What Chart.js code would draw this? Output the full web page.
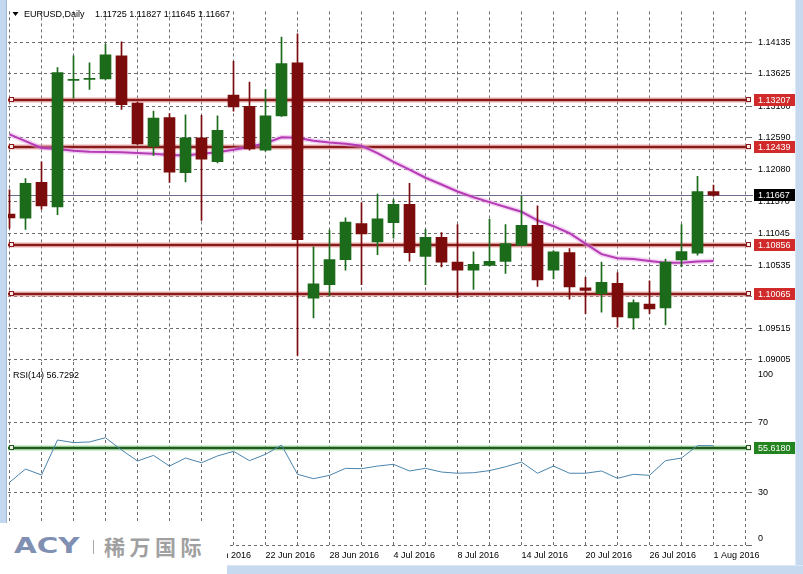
<!DOCTYPE html>
<html><head><meta charset="utf-8">
<script src="https://cdn.jsdelivr.net/npm/chart.js@4.4.0/dist/chart.umd.min.js"></script>
<style>
html,body{margin:0;padding:0;background:#fff;}
body{width:803px;height:574px;position:relative;overflow:hidden;font-family:"Liberation Sans",Arial,sans-serif;}
#c2{position:absolute;left:0;top:362px;}
#c1{position:absolute;left:0;top:0;}
#frameL{position:absolute;left:0;top:0;width:6px;height:523px;background:#c3d7ee;border-right:1px solid #9db8d9;}
#frameR{position:absolute;left:795px;top:0;width:8px;height:574px;background:#c6d9ef;border-left:1px solid #dbe7f5;}
#frameB{position:absolute;left:227px;top:565px;width:576px;height:9px;background:#c6d9ef;border-top:1px solid #dbe7f5;}
#logo{position:absolute;left:0;top:523px;width:227px;height:51px;background:#fff;}
#logo .acy{position:absolute;left:14px;top:10px;font:bold 21px "DejaVu Sans",sans-serif;color:#7f90b3;transform:scaleX(1.4);transform-origin:left top;line-height:26px;}
#logo .bar{position:absolute;left:93px;top:17px;width:1px;height:14px;background:#a9a9a9;}
#logo .cn{position:absolute;left:104px;top:9px;font:bold 21px "Noto Sans CJK SC",sans-serif;color:#a0a0a0;letter-spacing:4.5px;line-height:28px;}
</style></head>
<body>
<canvas id="c2" width="803" height="212"></canvas>
<canvas id="c1" width="803" height="372"></canvas>
<div id="frameL"></div>
<div id="frameR"></div>
<div id="frameB"></div>
<div id="logo"><span class="acy">ACY</span><span class="bar"></span><span class="cn">稀万国际</span></div>
<script>
// ---------- data ----------
const dates = ['31 May 2016','1 Jun 2016','2 Jun 2016','3 Jun 2016','6 Jun 2016','7 Jun 2016','8 Jun 2016','9 Jun 2016','10 Jun 2016',
  '13 Jun 2016','14 Jun 2016','15 Jun 2016','16 Jun 2016','17 Jun 2016','20 Jun 2016','21 Jun 2016','22 Jun 2016','23 Jun 2016','24 Jun 2016',
  '27 Jun 2016','28 Jun 2016','29 Jun 2016','30 Jun 2016','1 Jul 2016','4 Jul 2016','5 Jul 2016','6 Jul 2016','7 Jul 2016','8 Jul 2016',
  '11 Jul 2016','12 Jul 2016','13 Jul 2016','14 Jul 2016','15 Jul 2016','18 Jul 2016','19 Jul 2016','20 Jul 2016','21 Jul 2016','22 Jul 2016',
  '25 Jul 2016','26 Jul 2016','27 Jul 2016','28 Jul 2016','29 Jul 2016','1 Aug 2016'];
const opens  = [1.11362,1.11296,1.11872,1.11476,1.13520,1.13535,1.13543,1.13917,1.13154,1.12453,1.12920,1.12028,1.12593,1.12208,1.13283,
  1.13102,1.12391,1.12947,1.13803,1.10003,1.10221,1.10626,1.11207,1.10911,1.11222,1.11518,1.10677,1.10984,1.10584,1.10454,1.10532,1.10595,
  1.10853,1.11180,1.10454,1.10739,1.10168,1.10074,1.10241,1.09685,1.09909,1.09847,1.10620,1.10729,1.11725];
const highs  = [1.11752,1.11934,1.12204,1.13725,1.13917,1.13803,1.14104,1.14140,1.13169,1.13024,1.12982,1.12962,1.12956,1.12947,1.13828,
  1.13492,1.13372,1.14218,1.14271,1.10833,1.11102,1.11300,1.11545,1.11685,1.11596,1.11856,1.11113,1.11062,1.11191,1.10750,1.11280,1.11191,
  1.11648,1.11492,1.10771,1.10802,1.10339,1.10584,1.10417,1.09976,1.10283,1.10635,1.11191,1.11970,1.11827];
const lows   = [1.11129,1.11113,1.11440,1.11352,1.13232,1.13372,1.13528,1.13049,1.12484,1.12308,1.11872,1.11881,1.11258,1.12188,1.13024,
  1.12391,1.12375,1.12936,1.09078,1.09685,1.10039,1.10454,1.10221,1.10704,1.10973,1.10599,1.10221,1.10506,1.10012,1.10143,1.10521,1.10401,
  1.10849,1.10194,1.10314,1.09987,1.09753,1.09778,1.09535,1.09504,1.09753,1.09571,1.10506,1.10697,1.11645];
const closes = [1.11300,1.11856,1.11492,1.13647,1.13528,1.13551,1.13933,1.13127,1.12495,1.12909,1.12037,1.12593,1.12246,1.12713,1.13091,
  1.12411,1.12947,1.13792,1.10947,1.10236,1.10626,1.11233,1.11040,1.11285,1.11518,1.10739,1.10984,1.10584,1.10454,1.10548,1.10599,1.10884,
  1.11180,1.10299,1.10750,1.10183,1.10127,1.10257,1.09701,1.09930,1.09831,1.10584,1.10755,1.11725,1.11667];
const maValues = [1.12648,1.12539,1.12429,1.12411,1.12383,1.12367,1.12364,1.12359,1.12348,1.12333,1.12313,1.12308,1.12336,1.12359,1.12398,
  1.12445,1.12504,1.12601,1.12593,1.12546,1.12515,1.12495,1.12464,1.12344,1.12204,1.12079,1.11947,1.11838,1.11725,1.11632,1.11554,1.11476,
  1.11398,1.11258,1.11165,1.11051,1.10884,1.10713,1.10646,1.10635,1.10604,1.10573,1.10573,1.10595,1.10604];
const rsiValues = [35.8,43.4,40.0,60.0,58.5,58.9,61.3,54.3,48.0,51.2,45.1,49.7,47.0,50.9,53.5,48.2,51.8,57.1,40.4,37.9,39.8,43.8,43.6,45.1,
  46.1,42.3,43.8,41.7,41.0,41.3,42.5,44.7,47.4,41.0,45.1,41.0,41.0,42.3,38.1,40.4,39.8,48.2,49.7,56.8,56.73];
const priceTicks = [1.14135,1.13625,1.13100,1.12590,1.12080,1.11570,1.11045,1.10535,1.10025,1.09515,1.09005];
const rsiTicks = [0,30,70,100];
const priceLevels = ['1.13207','1.12439','1.10856','1.10065'];
const bidPrice = '1.11667';
const rsiLevel = '55.6180';
const rsiTitle = 'RSI(14) 56.7292';
const headerSymbol = 'EURUSD,Daily';
const headerOHLC = '1.11725 1.11827 1.11645 1.11667';

// ---------- config ----------
const FONT = '9px "Liberation Sans"';
const GRID = '#6c6c6c';
const BULL = '#1b6b1b', BEAR = '#7c0b0b';
const X_MIN = -0.09375, X_MAX = 46.21875;
const PRICE_MIN = 1.08995, PRICE_MAX = 1.14633;
const RSI_MIN = 0, RSI_MAX = 104.57;
const gridBars = []; for (let k = 0; k <= 46; k += 2) gridBars.push(k);

function xScale(showLabels) {
  return {
    type: 'linear', min: X_MIN, max: X_MAX, offset: false,
    afterBuildTicks: s => { s.ticks = gridBars.map(v => ({value: v})); },
    afterFit: s => { s.height = showLabels ? 29 : 0; },
    ticks: {
      display: showLabels, autoSkip: false, maxRotation: 0, align: 'start', padding: 5,
      font: {family: 'Liberation Sans', size: 9}, color: '#000',
      callback: v => (v % 4 === 0 && v < dates.length) ? dates[v] : ''
    },
    grid: {color: GRID, lineWidth: 1, drawTicks: false, offset: false},
    border: {display: false, dash: [3, 3]}
  };
}

function levelLine(ctx, left, y, color, halo, w) {
  ctx.save();
  ctx.lineCap = 'butt';
  ctx.strokeStyle = halo; ctx.lineWidth = w + 3;
  ctx.beginPath(); ctx.moveTo(left, y); ctx.lineTo(751, y); ctx.stroke();
  ctx.strokeStyle = color; ctx.lineWidth = w;
  ctx.beginPath(); ctx.moveTo(left, y); ctx.lineTo(751, y); ctx.stroke();
  ctx.fillStyle = '#fbe9e9'; ctx.strokeStyle = color; ctx.lineWidth = 1;
  [9.5, 746.5].forEach(x => { ctx.fillRect(x, y - 2.5, 4, 4); ctx.strokeRect(x, y - 2.5, 4, 4); });
  ctx.restore();
}
function labelBox(ctx, y, text, bg) {
  ctx.save();
  const yy = Math.round(y);
  ctx.fillStyle = bg; ctx.fillRect(754, yy - 6, 41, 12);
  ctx.fillStyle = '#fff'; ctx.font = FONT; ctx.textAlign = 'left'; ctx.textBaseline = 'middle';
  ctx.fillText(text, 758, yy + 0.5);
  ctx.restore();
}

const pricePlugin = {
  id: 'priceDeco',
  beforeDatasetsDraw(chart) {
    const {ctx, chartArea, scales: {y}} = chart;
    const yb = Math.round(y.getPixelForValue(parseFloat(bidPrice))) + 0.5;
    ctx.save(); ctx.strokeStyle = '#6c6c8e'; ctx.lineWidth = 1;
    ctx.beginPath(); ctx.moveTo(chartArea.left, yb); ctx.lineTo(753, yb); ctx.stroke(); ctx.restore();
    priceLevels.forEach(v => {
      const py = Math.round(y.getPixelForValue(parseFloat(v)));
      levelLine(ctx, chartArea.left, py, '#8b1a1a', 'rgba(235,160,160,0.55)', 2.5);
    });
  },
  afterDraw(chart) {
    const {ctx, scales: {y}} = chart;
    priceLevels.forEach(v => labelBox(ctx, y.getPixelForValue(parseFloat(v)), v, '#d02a2a'));
    labelBox(ctx, y.getPixelForValue(parseFloat(bidPrice)), bidPrice, '#000');
    ctx.save();
    ctx.fillStyle = '#000';
    ctx.beginPath(); ctx.moveTo(12.5, 12); ctx.lineTo(18.5, 12); ctx.lineTo(15.5, 16); ctx.closePath(); ctx.fill();
    ctx.font = FONT; ctx.textAlign = 'left'; ctx.textBaseline = 'middle';
    ctx.fillText(headerSymbol, 24, 14.5);
    ctx.fillText(headerOHLC, 95, 14.5);
    ctx.restore();
  }
};

const rsiPlugin = {
  id: 'rsiDeco',
  beforeDatasetsDraw(chart) {
    const {ctx, chartArea, scales: {y}} = chart;
    const py = Math.round(y.getPixelForValue(parseFloat(rsiLevel)));
    levelLine(ctx, chartArea.left, py, '#1f5c1f', 'rgba(150,220,150,0.55)', 2.5);
  },
  afterDraw(chart) {
    const {ctx, chartArea, scales: {y}} = chart;
    ctx.save();
    ctx.font = FONT; ctx.fillStyle = '#000'; ctx.textAlign = 'left'; ctx.textBaseline = 'middle';
    rsiTicks.forEach(v => {
      let py = y.getPixelForValue(v);
      py = Math.min(Math.max(py, chartArea.top + 13), chartArea.bottom - 6);
      ctx.fillText(String(v), 758, py);
    });
    ctx.fillText(rsiTitle, 13, 14);
    ctx.restore();
    const py = y.getPixelForValue(parseFloat(rsiLevel));
    labelBox(ctx, py, rsiLevel, '#23841f');
  }
};

const idx = dates.map((_, i) => i);
const bodies = idx.map(i => ({x: i, y: [opens[i], closes[i]]}));
const wicks  = idx.map(i => ({x: i, y: [lows[i], highs[i]]}));
const colors = idx.map(i => closes[i] >= opens[i] ? BULL : BEAR);
const maData = idx.map(i => ({x: i, y: maValues[i]}));
const rsiData = idx.map(i => ({x: i, y: rsiValues[i]}));

new Chart(document.getElementById('c1'), {
  type: 'bar',
  data: {datasets: [
    {type: 'bar', data: bodies, backgroundColor: colors, barThickness: 11, grouped: false, minBarLength: 1, order: 0},
    {type: 'bar', data: wicks, backgroundColor: colors, barThickness: 1, grouped: false, order: 1},
    {type: 'line', data: maData, borderColor: '#b63cb6', borderWidth: 2, pointRadius: 0, tension: 0, order: 2},
    {type: 'line', data: maData, borderColor: 'rgba(228,160,228,0.45)', borderWidth: 5, pointRadius: 0, tension: 0, order: 3}
  ]},
  options: {
    responsive: false, animation: false, events: [],
    layout: {padding: {left: 8, right: 0, top: 0, bottom: 10}},
    plugins: {legend: {display: false}, tooltip: {enabled: false}},
    scales: {
      x: xScale(false),
      y: {
        position: 'right', min: PRICE_MIN, max: PRICE_MAX,
        afterBuildTicks: s => { s.ticks = priceTicks.map(v => ({value: v})); },
        afterFit: s => { s.width = 54; },
        ticks: {font: {family: 'Liberation Sans', size: 9}, color: '#000', padding: 6, callback: v => Number(v).toFixed(5)},
        grid: {color: GRID, lineWidth: 1, tickLength: 3, tickColor: GRID, tickBorderDash: [3, 3]},
        border: {display: false, dash: [3, 3]}
      }
    }
  },
  plugins: [pricePlugin]
});

new Chart(document.getElementById('c2'), {
  type: 'line',
  data: {datasets: [
    {data: rsiData, borderColor: '#4a84ac', borderWidth: 1, pointRadius: 0, tension: 0}
  ]},
  options: {
    responsive: false, animation: false, events: [],
    layout: {padding: {left: 8, right: 0, top: 0, bottom: 0}},
    plugins: {legend: {display: false}, tooltip: {enabled: false}},
    scales: {
      x: xScale(true),
      y: {
        position: 'right', min: RSI_MIN, max: RSI_MAX,
        afterBuildTicks: s => { s.ticks = rsiTicks.map(v => ({value: v})); },
        afterFit: s => { s.width = 54; },
        ticks: {display: false},
        grid: {
          color: c => (c.tick && c.tick.value === 100) ? 'rgba(0,0,0,0)' : GRID,
          tickColor: c => (c.tick && c.tick.value === 100) ? 'rgba(0,0,0,0)' : GRID,
          lineWidth: 1, tickLength: 3, tickBorderDash: [3, 3]
        },
        border: {display: false, dash: [3, 3]}
      }
    }
  },
  plugins: [rsiPlugin]
});
</script>
</body></html>
